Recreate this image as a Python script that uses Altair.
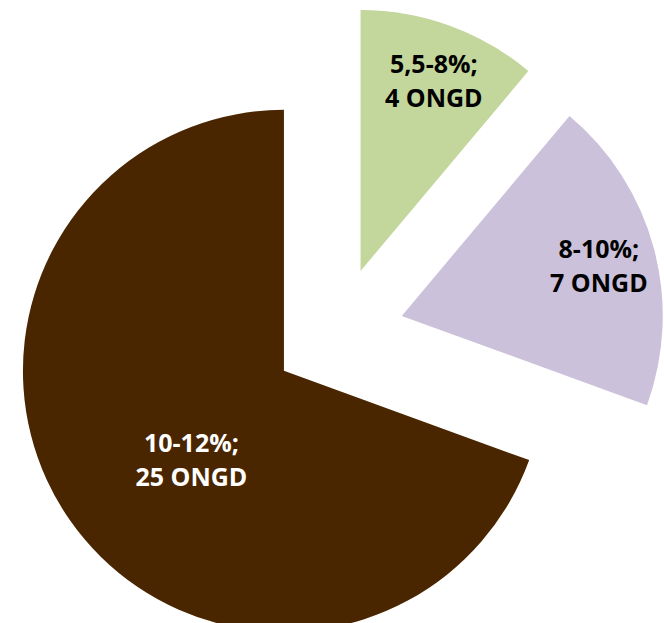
import altair as alt
import pandas as pd

categories = ["5,5-8%", "8-10%", "10-12%"]
counts = [4, 7, 25]
order = [0, 1, 2]
colors = ["#C3D69B", "#CCC1DA", "#4A2600"]
label_colors = ["#000000", "#000000", "#FFFFFF"]

df = pd.DataFrame({"cat": categories, "count": counts, "order": order})

CX, CY = 338, 333
R = 261
EXPLODE = 66
LINE_H = 34

base = (
    alt.Chart(df)
    .transform_window(cum="sum(count)", sort=[alt.SortField("order")], frame=[None, 0])
    .transform_joinaggregate(total="sum(count)")
    .transform_calculate(
        t0="2*PI*(datum.cum - datum.count)/datum.total",
        t1="2*PI*datum.cum/datum.total",
    )
    .transform_calculate(mid="(datum.t0 + datum.t1)/2")
    .transform_calculate(
        cx=f"{CX} + {EXPLODE}*sin(datum.mid)",
        cy=f"{CY} - {EXPLODE}*cos(datum.mid)",
        big="datum.count/datum.total > 0.5",
        label="datum.cat + ';\\n' + datum.count + ' ONGD'",
    )
    .transform_calculate(
        lr="datum.big ? 129 : 203",
        la="datum.big ? datum.mid - 0.16 : datum.mid + 0.02",
    )
    .transform_calculate(
        lx="datum.cx + datum.lr*sin(datum.la)",
        ly="datum.cy - datum.lr*cos(datum.la)",
    )
)

arcs = base.mark_arc(radius=R).encode(
    x=alt.X("cx:Q", scale=None),
    y=alt.Y("cy:Q", scale=None),
    theta=alt.Theta("t0:Q", scale=None, stack=None),
    theta2="t1:Q",
    color=alt.Color("cat:N", scale=alt.Scale(domain=categories, range=colors), legend=None),
)

labels = base.mark_text(
    font="Open Sans",
    fontWeight="bold",
    fontSize=25,
    lineBreak="\n",
    lineHeight=LINE_H,
    align="center",
    baseline="middle",
    dy=-LINE_H / 2,
).encode(
    x=alt.X("lx:Q", scale=None),
    y=alt.Y("ly:Q", scale=None),
    text="label:N",
    color=alt.Color("cat:N", scale=alt.Scale(domain=categories, range=label_colors), legend=None),
)

chart = (
    alt.layer(arcs, labels)
    .resolve_scale(color="independent")
    .properties(width=664, height=623, autosize="none", padding=0)
    .configure_view(stroke=None)
)

chart.save("out.html", embed_options={"renderer": "svg", "actions": False})
